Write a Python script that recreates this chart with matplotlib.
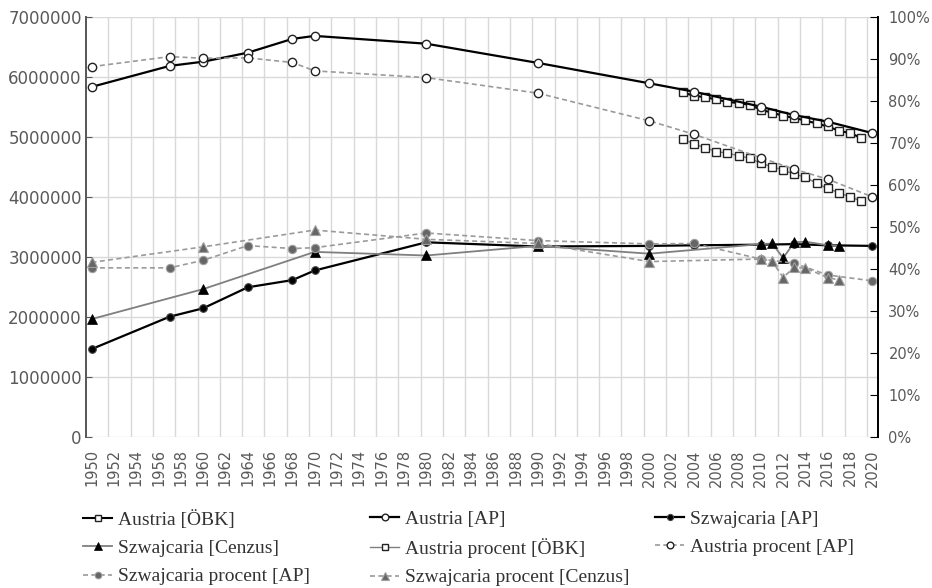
import numpy as np
import matplotlib
matplotlib.use("Agg")
import matplotlib.pyplot as plt
from matplotlib.ticker import FuncFormatter

# --- data ---
years_ap = [1950, 1957, 1960, 1964, 1968, 1970, 1980, 1990, 2000, 2004, 2010, 2013, 2016, 2020]
austria_ap = [5830000, 6180000, 6250000, 6400000, 6630000, 6680000, 6550000,
              6230000, 5890000, 5750000, 5500000, 5360000, 5250000, 5060000]
szwajcaria_ap = [1460000, 2000000, 2140000, 2490000, 2610000, 2770000, 3240000,
                 3170000, 3180000, 3190000, 3200000, 3210000, 3190000, 3180000]
austria_proc_ap = [88.1, 90.5, 90.1, 90.2, 89.1, 87.1, 85.5, 81.8, 75.2, 72.0, 66.4, 63.7, 61.3, 57.1]
szwajcaria_proc_ap = [40.2, 40.2, 42.0, 45.5, 44.8, 45.0, 48.5, 46.7, 45.9, 46.0, 42.3, 41.3, 38.5, 37.1]

years_obk = list(range(2003, 2020))
austria_obk = [5740000, 5680000, 5660000, 5620000, 5580000, 5560000, 5530000, 5450000, 5400000,
               5350000, 5310000, 5270000, 5220000, 5170000, 5100000, 5060000, 4980000]
austria_proc_obk = [70.9, 69.7, 68.8, 67.9, 67.5, 66.9, 66.3, 65.1, 64.3, 63.5, 62.5, 61.8,
                    60.3, 59.1, 58.1, 57.1, 56.1]

years_cenzus = [1950, 1960, 1970, 1980, 1990, 2000, 2010, 2011, 2012, 2013, 2014, 2016, 2017]
szwajcaria_cenzus = [1960000, 2460000, 3080000, 3020000, 3180000, 3050000, 3210000, 3220000,
                     2980000, 3240000, 3250000, 3190000, 3180000]
szwajcaria_proc_cenzus = [41.5, 45.2, 49.2, 47.0, 46.0, 41.7, 42.3, 41.8, 37.9, 40.4, 40.1, 37.9, 37.3]

GRID = "#d9d9d9"
TXT = "#595959"
DASH = "#9a9a9a"

fig = plt.figure(figsize=(9.32, 5.88), dpi=100)
ax = fig.add_axes([86 / 932, 1 - 436.7 / 588, (878 - 86) / 932, 420 / 588])
ax2 = ax.twinx()

# left axis series
h_obk, = ax.plot(years_obk, austria_obk, color="black", lw=1.5, marker="s", ms=5.5,
                 mfc="white", mec="#222222", mew=1.0, label="Austria [ÖBK]")
h_aap, = ax.plot(years_ap, austria_ap, color="black", lw=1.6, marker="o", ms=6,
                 mfc="white", mec="#222222", mew=1.0, label="Austria [AP]")
h_sap, = ax.plot(years_ap, szwajcaria_ap, color="black", lw=1.6, marker="o", ms=5.5,
                 mfc="black", mec="#444444", mew=0.8, label="Szwajcaria [AP]")
h_scz, = ax.plot(years_cenzus, szwajcaria_cenzus, color="#7f7f7f", lw=1.3, marker="^", ms=7,
                 mfc="black", mec="black", mew=0.5, label="Szwajcaria [Cenzus]")

# right axis series (percent)
h_pobk, = ax2.plot(years_obk, austria_proc_obk, color="#7f7f7f", lw=1.0, marker="s", ms=5.5,
                   mfc="white", mec="#222222", mew=1.0, label="Austria procent [ÖBK]")
h_pap, = ax2.plot(years_ap, austria_proc_ap, color=DASH, lw=1.2, ls=(0, (3, 2)), marker="o",
                  ms=6, mfc="white", mec="#222222", mew=1.0, label="Austria procent [AP]")
h_psap, = ax2.plot(years_ap, szwajcaria_proc_ap, color=DASH, lw=1.2, ls=(0, (3, 2)), marker="o",
                   ms=6, mfc="#666666", mec="#a0a0a0", mew=0.8, label="Szwajcaria procent [AP]")
h_pscz, = ax2.plot(years_cenzus, szwajcaria_proc_cenzus, color=DASH, lw=1.2, ls=(0, (3, 2)),
                   marker="^", ms=6.5, mfc="#666666", mec="#a0a0a0", mew=0.8,
                   label="Szwajcaria procent [Cenzus]")

# axes styling
ax.set_xlim(1949.5, 2020.5)
ax.set_ylim(0, 7000000)
ax2.set_ylim(0, 100)
ax.set_xticks(range(1950, 2021, 2))
ax.set_xticks(np.arange(1951.5, 2020, 2), minor=True)
ax.tick_params(axis="x", which="both", length=0, pad=9, labelsize=10.5, labelcolor=TXT,
               labelrotation=90)
ax.set_yticks(range(0, 7000001, 1000000))
ax.yaxis.set_major_formatter(FuncFormatter(lambda v, p: f"{int(v)}"))
ax.tick_params(axis="y", direction="in", length=4, color=TXT, labelsize=12,
               labelcolor=TXT, pad=3)
ax2.set_yticks(range(0, 101, 10))
ax2.yaxis.set_major_formatter(FuncFormatter(lambda v, p: f"{int(v)}%"))
ax2.tick_params(axis="y", direction="in", length=6, color="black", labelsize=10.5,
                labelcolor=TXT, pad=7.5)

ax.grid(axis="y", which="major", color=GRID, lw=1.0)
ax.grid(axis="x", which="minor", color=GRID, lw=1.0)
ax.set_axisbelow(True)
for a in (ax, ax2):
    a.spines["top"].set_visible(False)
    a.spines["bottom"].set_visible(False)
    a.spines["left"].set_color(TXT)
    a.spines["right"].set_color("black")
    a.spines["left"].set_linewidth(1.3)
    a.spines["right"].set_linewidth(1.3)

# legend: three columns placed like the Excel legend
columns = [
    ([h_obk, h_scz, h_psap], 83),
    ([h_aap, h_pobk, h_pscz], 370),
    ([h_sap, h_pap], 655),
]
for handles, x0 in columns:
    leg = fig.legend(handles=handles, loc="upper left",
                     bbox_to_anchor=(x0 / 932, 1 - 510 / 588), frameon=False,
                     borderpad=0, borderaxespad=0, handlelength=1.5, handletextpad=0.3,
                     labelspacing=0.55, numpoints=1, markerscale=0.8,
                     prop={"family": "Liberation Serif", "size": 14})
    for t in leg.get_texts():
        t.set_color("#333333")

fig.savefig("out.png", dpi=100)
